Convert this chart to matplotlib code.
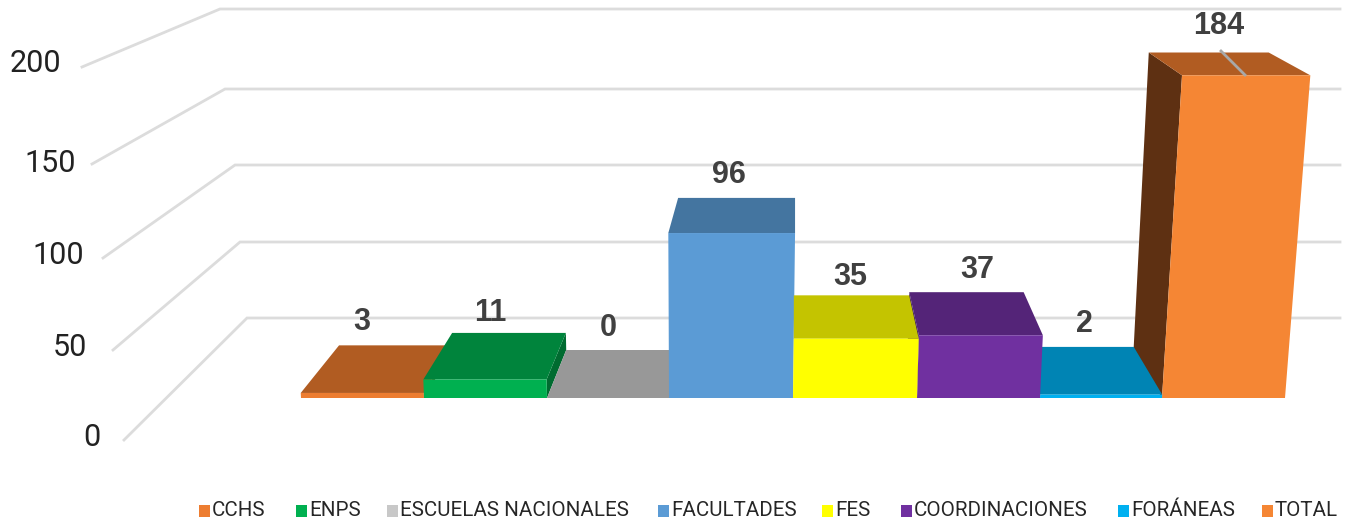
# -*- coding: utf-8 -*-
# Grafica de barras con aspecto 3D, dibujada a mano sobre un eje en pixeles
import matplotlib
matplotlib.use("Agg")
import matplotlib.pyplot as plt
from matplotlib.patches import Polygon, Rectangle

categorias = ["CCHS", "ENPS", "ESCUELAS NACIONALES", "FACULTADES", "FES",
              "COORDINACIONES", "FORÁNEAS", "TOTAL"]
valores = [3, 11, 0, 96, 35, 37, 2, 184]
etiquetas_y = [0, 50, 100, 150, 200]

color_frente = ["#ED7D31", "#00B050", "#C8C8C8", "#5B9BD5", "#FFFF00",
                "#7030A0", "#00B0F0", "#F58634"]
color_arriba = ["#B15C22", "#00843C", "#989898", "#4475A0", "#C4C400",
                "#542478", "#0084B4", "#B15C22"]
color_lado = ["#7A4018", "#006B30", "#6A6A6A", "#2F5170", "#888800",
              "#3A1954", "#005C7E", "#5E3012"]

# bordes de las barras en la base, en pixeles
bordes = [301, 424, 547, 669, 793, 917, 1040, 1162, 1285]
base = 398
centro = 700
fuga = 795

# rejilla: extremo frontal y punto donde dobla hacia el fondo
rejilla_frente = [(124, 440), (113, 350), (103, 258), (92, 164), (82, 67)]
rejilla_fondo = [(247, 318), (240, 242), (235, 165), (225, 89), (220, 9)]
pos_etiquetas_y = [(92, 438), (70, 347), (58, 255), (50, 163), (35, 63)]
fuente = "Liberation Sans"


def altura(v):
    return 1.68 * v + 0.0004 * v * v


def frente(x, v):
    # punto del frente a la altura del valor v
    h = altura(v)
    return x + (x - centro) * h / 7450, base - h


def fondo(x, v):
    # punto trasero correspondiente, con menor profundidad cuanto mas alto
    h = altura(v)
    fx, fy = frente(x, v)
    prof = 48 - 0.078 * h
    extra = max(0, h - 170)
    return fx + (fuga - extra * 0.8 - fx) * (0.0775 - extra * 0.00008), fy - prof


def dibujar_barra(ax, i):
    x0, x1 = bordes[i], bordes[i + 1]
    v = valores[i]
    z = 7 - abs(i - 3.5) * 0.1
    # cara lateral hacia el centro de la grafica
    if x1 < fuga - 5:
        lado = [frente(x1, 0), frente(x1, v), fondo(x1, v), fondo(x1, 0)]
        ax.add_patch(Polygon(lado, fc=color_lado[i], ec="none", zorder=z))
    elif x0 > fuga + 5:
        lado = [frente(x0, 0), frente(x0, v), fondo(x0, v), fondo(x0, 0)]
        ax.add_patch(Polygon(lado, fc=color_lado[i], ec="none", zorder=z))
    arriba = [frente(x0, v), frente(x1, v), fondo(x1, v), fondo(x0, v)]
    ax.add_patch(Polygon(arriba, fc=color_arriba[i], ec="none", zorder=z))
    cara = [frente(x0, 0), frente(x1, 0), frente(x1, v), frente(x0, v)]
    ax.add_patch(Polygon(cara, fc=color_frente[i], ec="none", zorder=z))


fig = plt.figure(figsize=(13.53, 5.25), dpi=100)
ax = fig.add_axes([0, 0, 1, 1])
ax.set_xlim(0, 1353)
ax.set_ylim(525, 0)
ax.axis("off")

for (fx, fy), (bx, by) in zip(rejilla_frente, rejilla_fondo):
    ax.plot([fx, bx, 1340], [fy, by, by], color="#DCDCDC", lw=2, zorder=1,
            solid_joinstyle="miter")

for et, (x, y) in zip(etiquetas_y, pos_etiquetas_y):
    ax.text(x, y, str(et), ha="center", va="center",
            fontsize=22, family="Roboto", color="#222222")

for i in range(len(valores)):
    dibujar_barra(ax, i)

# linea guia de la etiqueta del total
ax.plot([1221, 1245], [51, 75], color="#A8A8A8", lw=2, zorder=8)

# etiquetas de datos
pos_valores = [(362, 322), (490, 313), (608, 328), (729, 175), (850, 277),
               (977, 270), (1084, 324), (1219, 26)]
for v, (x, y) in zip(valores, pos_valores):
    ax.text(x, y, str(v), ha="center", va="center", fontsize=22,
            family=fuente, fontweight="bold", color="#404040", zorder=9)

# leyenda
pos_leyenda = [199, 296, 387, 658, 822, 901, 1118, 1262]
for nombre, c, x in zip(categorias, color_frente, pos_leyenda):
    ax.add_patch(Rectangle((x, 505), 11, 12, fc=c, ec="none"))
    ax.text(x + 13, 510, nombre, ha="left", va="center", fontsize=14.8,
            family="Roboto", color="#262626")

fig.savefig("out.png", dpi=100)
